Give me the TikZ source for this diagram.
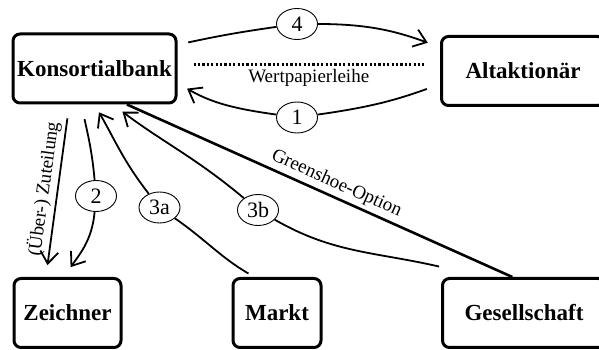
\documentclass[tikz,border=0pt]{standalone}
\usepackage{fontspec}
\setmainfont{Liberation Serif}
\usepackage{tikz}
\usetikzlibrary{arrows.meta}
\usetikzlibrary{shapes}

\begin{document}
\begin{tikzpicture}[x=1pt,y=1pt,
                    box/.style={draw,line width=3pt,rounded corners=7pt,minimum height=69pt,font=\fontsize{23}{27}\selectfont\bfseries},
                    num/.style={draw,ellipse,line width=0.9pt,minimum width=41pt,minimum height=31pt,inner sep=0pt,font=\fontsize{22}{24}\selectfont},
                    con/.style={line width=1.8pt},
                    arr/.style={con,-{Straight Barb[length=12pt,width=18pt]}},
                    lbl/.style={font=\fontsize{19}{22}\selectfont}]
                    \useasboundingbox (0,0) rectangle (599,350);
                    % the five parties
                    \draw (94.5,281.5) node[box,minimum width=163pt,name=kb] {Konsortialbank};
                    \draw (523,279) node[box,minimum width=163pt,name=alt] {Altaktionär};
                    \draw (67.5,37) node[box,minimum width=107pt,name=zei] {Zeichner};
                    \draw (277,37) node[box,minimum width=88pt,name=markt] {Markt};
                    \draw (524,37) node[box,minimum width=163pt,name=ges] {Gesellschaft};
                    % step numbers
                    \draw (297,326) node[num,name=c4] {4};
                    \draw (297,232.5) node[num,name=c1] {1};
                    \draw (96,154) node[num,name=c2] {2};
                    \draw (159.5,142.5) node[num,name=c3a] {3a};
                    \draw (258,140) node[num,name=c3b] {3b};
                    % Wertpapierleihe
                    \draw[con,shorten <=11pt] (kb.16) to[out=12,in=188] (c4);
                    \draw[arr,shorten >=13pt] (c4) to[out=0,in=160] (alt.164);
                    \draw[con,shorten <=14pt] (alt.189) to[out=200,in=8] (c1);
                    \draw[arr,shorten >=11pt] (c1) to[out=172,in=-30] (kb.-10);
                    \draw[line width=2.4pt,dash pattern=on 2.2pt off 2.2pt,shorten <=16pt,shorten >=16pt] ([yshift=4pt]kb.east) -- ([yshift=4pt]kb.east -| alt.west) node[lbl,midway,below] {Wertpapierleihe};
                    % Zuteilung
                    \draw[arr,shorten <=14pt,shorten >=12pt] (kb.235) -- (zei.121) node[lbl,midway,sloped,above] {(Über-) Zuteilung};
                    \draw[con,shorten <=15pt] (kb.250) to[out=-78,in=95] (c2);
                    \draw[arr,shorten >=12pt] (c2) to[out=-95,in=55] (zei.96);
                    % Rueckkauf
                    \draw[con,shorten <=7pt] (markt.122) to[out=150,in=-35] (c3a);
                    \draw[arr,shorten >=9pt] (c3a) to[out=128,in=-60] (kb.south);
                    \draw[con,shorten <=2pt] ([yshift=10pt]ges.north west) to[out=167,in=-30] (c3b);
                    \draw[arr,shorten >=12pt] (c3b) to[out=140,in=-37] (kb.-63);
                    % Greenshoe
                    \draw[line width=2.6pt] (kb.-48) -- (ges.108) node[lbl,pos=0.53,sloped,above] {Greenshoe-Option};
                \end{tikzpicture}
\end{document}
